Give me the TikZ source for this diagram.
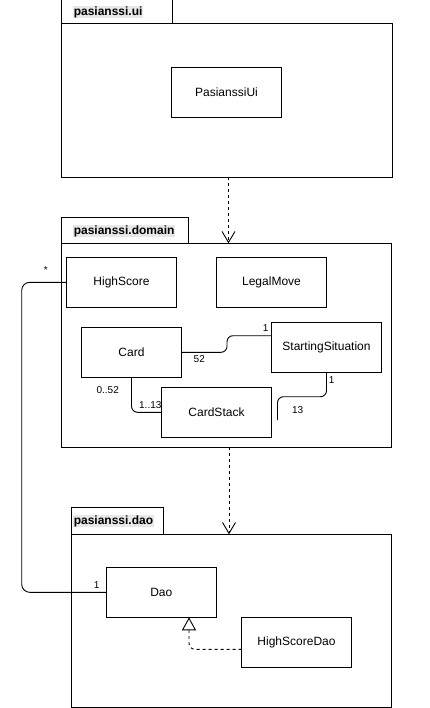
\documentclass[tikz,border=0pt]{standalone}
\usepackage{fontspec}
\setmainfont{Liberation Sans}
\usetikzlibrary{arrows.meta}
\begin{document}
\begin{tikzpicture}[x=1pt,y=-1pt,
 pkg/.style={draw, line width=0.9pt, inner sep=0pt, outer sep=0pt, anchor=north west},
 cls/.style={draw, line width=0.9pt, minimum width=110pt, minimum height=50pt, inner sep=0pt, outer sep=0pt, font=\fontsize{12}{14}\selectfont},
 tablbl/.style={fill=black!9, inner sep=0.6pt, anchor=west, font=\fontsize{12}{14}\selectfont\bfseries},
 mult/.style={inner sep=0pt, font=\fontsize{10}{12}\selectfont},
 assoc/.style={draw, line width=0.9pt, rounded corners=6pt},
 dep/.style={draw, line width=0.9pt, dash pattern=on 3pt off 3pt, -{Straight Barb[length=11pt,width=13pt,line width=0.9pt]}},
 realz/.style={draw, line width=0.9pt, rounded corners=6pt, dash pattern=on 3pt off 3pt, -{Triangle[open,length=13pt,width=14pt,line width=0.9pt]}}
]
\useasboundingbox (0,0) rectangle (429,708);

% packages
\node[pkg, minimum width=111pt, minimum height=24.5pt] (uitab) at (61.5,-1) {};
\node[pkg, minimum width=330.5pt, minimum height=153.5pt] (uibody) at (61.5,23.5) {};
\node[tablbl] (uilbl) at (73,12) {pasianssi.ui};

\node[pkg, minimum width=127pt, minimum height=25.8pt] (domtab) at (61.5,217.5) {};
\node[pkg, minimum width=330pt, minimum height=204pt] (dombody) at (61.5,243.3) {};
\node[tablbl] (domlbl) at (73,231) {pasianssi.domain};

\node[pkg, minimum width=92.3pt, minimum height=26.6pt] (daotab) at (71,507.7) {};
\node[pkg, minimum width=320.7pt, minimum height=173pt] (daobody) at (71,534.3) {};
\node[tablbl] (daolbl) at (73,521) {pasianssi.dao};

% classes
\node[cls] (ui) at (226.5,92) {PasianssiUi};
\node[cls] (hs) at (121.5,282.3) {HighScore};
\node[cls] (lm) at (271.5,282.3) {LegalMove};
\node[cls, minimum width=100pt] (card) at (131.5,352.3) {Card};
\node[cls] (ss) at (326.5,347.3) {StartingSituation};
\node[cls] (cs) at (216.5,412.3) {CardStack};
\node[cls] (dao) at (161.3,592.3) {Dao};
\node[cls] (hsd) at (296.5,642.3) {HighScoreDao};

% dependencies between packages
\draw[dep] (uibody.south -| 228.5,0) -- (dombody.north -| 228.5,0);
\draw[dep] (dombody.south -| 229,0) -- (daobody.north -| 229,0);

% associations
\draw[assoc] (card.east) -- (227,352.3) -- (227,335.7) -- (ss.west |- 0,335.7);
\draw[assoc] (card.south) |- (cs.west);
\coordinate (ssend) at (277.5,420);
\draw[assoc] (ss.south) -- (326.5,396.7) -- (277.5,396.7) -- (ssend);
\draw[assoc, rounded corners=8pt] (hs.west) -- (21.7,282.3) -- (21.7,592.3) -- (dao.west);

% realization
\draw[realz] (hsd.west |- 0,649.3) -| (dao.south -| 189,0);

% multiplicities
\node[mult] (m1) at (45.7,270.5) {*};
\node[mult] (m2) at (96.7,584.7) {1};
\node[mult] (m3) at (199.3,359.3) {52};
\node[mult] (m4) at (265.7,327.7) {1};
\node[mult] (m5) at (107.7,389.7) {0..52};
\node[mult] (m6) at (150.3,404.7) {1..13};
\node[mult] (m7) at (331.7,379.7) {1};
\node[mult] (m8) at (297.7,409.7) {13};
\end{tikzpicture}
\end{document}
